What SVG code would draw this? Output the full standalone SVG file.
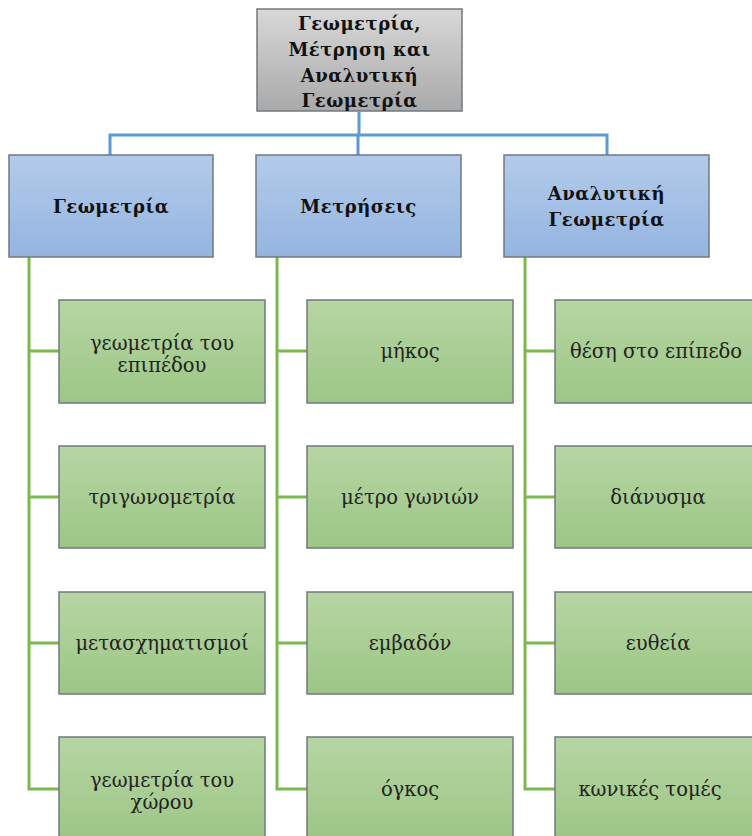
<svg xmlns="http://www.w3.org/2000/svg" width="752" height="836" viewBox="0 0 752 836">
  <defs>
    <linearGradient id="gGray" x1="0" y1="0" x2="0" y2="1">
      <stop offset="0" stop-color="#d8d8d8"/>
      <stop offset="1" stop-color="#a9a9a9"/>
    </linearGradient>
    <linearGradient id="gBlue" x1="0" y1="0" x2="0" y2="1">
      <stop offset="0" stop-color="#b3cbea"/>
      <stop offset="1" stop-color="#94b4e0"/>
    </linearGradient>
    <linearGradient id="gGreen" x1="0" y1="0" x2="0" y2="1">
      <stop offset="0" stop-color="#b6d5a3"/>
      <stop offset="1" stop-color="#9dc686"/>
    </linearGradient>
  </defs>
  <style>
    .box { stroke: #6f7a80; stroke-width: 1.5; }
    .root { fill: url(#gGray); }
    .cat { fill: url(#gBlue); }
    .leaf { fill: url(#gGreen); }
    .hdr { font-family: "DejaVu Serif", serif; font-weight: bold; font-size: 18px; letter-spacing: 0.5px; fill: #111; text-anchor: middle; }
    .lbl { font-family: "DejaVu Serif", serif; font-size: 19.5px; fill: #222; text-anchor: middle; }
    .blue { stroke: #5b9bd5; stroke-width: 3; fill: none; }
    .green { stroke: #7db84f; stroke-width: 3; fill: none; }
  </style>

  <g id="connectors">
    <path class="blue" d="M359 112 V135 M110 155 V135 H607 V155 M358 135 V155"/>
    <path class="green" d="M29 257 V789 H59 M29 351 H59 M29 497 H59 M29 643 H59"/>
    <path class="green" d="M277 257 V789 H307 M277 351 H307 M277 497 H307 M277 643 H307"/>
    <path class="green" d="M525 257 V789 H555 M525 351 H555 M525 497 H555 M525 643 H555"/>
  </g>

  <g id="root">
    <rect class="box root" x="257" y="9" width="205" height="102"/>
    <text class="hdr" x="359.5" y="30">Γεωμετρία,</text>
    <text class="hdr" x="359.5" y="56">Μέτρηση και</text>
    <text class="hdr" x="359.5" y="82">Αναλυτική</text>
    <text class="hdr" x="359.5" y="107">Γεωμετρία</text>
  </g>

  <g id="cat-geometria">
    <rect class="box cat" x="9" y="155" width="204" height="102"/>
    <text class="hdr" x="111" y="213">Γεωμετρία</text>
  </g>
  <g id="cat-metriseis">
    <rect class="box cat" x="256" y="155" width="205" height="102"/>
    <text class="hdr" x="358.5" y="213">Μετρήσεις</text>
  </g>
  <g id="cat-analytiki">
    <rect class="box cat" x="504" y="155" width="205" height="102"/>
    <text class="hdr" x="606.5" y="200">Αναλυτική</text>
    <text class="hdr" x="606.5" y="226">Γεωμετρία</text>
  </g>

  <g id="leaf-epipedo">
    <rect class="box leaf" x="59" y="300" width="206" height="103"/>
    <text class="lbl" x="162" y="350">γεωμετρία του</text>
    <text class="lbl" x="162" y="372">επιπέδου</text>
  </g>
  <g id="leaf-trigonometria">
    <rect class="box leaf" x="59" y="446" width="206" height="102"/>
    <text class="lbl" x="162" y="504">τριγωνομετρία</text>
  </g>
  <g id="leaf-metasximatismoi">
    <rect class="box leaf" x="59" y="592" width="206" height="102"/>
    <text class="lbl" x="162" y="650">μετασχηματισμοί</text>
  </g>
  <g id="leaf-xoros">
    <rect class="box leaf" x="59" y="737" width="206" height="103"/>
    <text class="lbl" x="162" y="787">γεωμετρία του</text>
    <text class="lbl" x="162" y="809">χώρου</text>
  </g>

  <g id="leaf-mikos">
    <rect class="box leaf" x="307" y="300" width="206" height="103"/>
    <text class="lbl" x="410" y="358">μήκος</text>
  </g>
  <g id="leaf-gonies">
    <rect class="box leaf" x="307" y="446" width="206" height="102"/>
    <text class="lbl" x="410" y="504">μέτρο γωνιών</text>
  </g>
  <g id="leaf-emvadon">
    <rect class="box leaf" x="307" y="592" width="206" height="102"/>
    <text class="lbl" x="410" y="650">εμβαδόν</text>
  </g>
  <g id="leaf-ogkos">
    <rect class="box leaf" x="307" y="737" width="206" height="103"/>
    <text class="lbl" x="410" y="796">όγκος</text>
  </g>

  <g id="leaf-thesi">
    <rect class="box leaf" x="555" y="300" width="206" height="103"/>
    <text class="lbl" x="656" y="358">θέση στο επίπεδο</text>
  </g>
  <g id="leaf-dianysma">
    <rect class="box leaf" x="555" y="446" width="206" height="102"/>
    <text class="lbl" x="658" y="504">διάνυσμα</text>
  </g>
  <g id="leaf-eftheia">
    <rect class="box leaf" x="555" y="592" width="206" height="102"/>
    <text class="lbl" x="658" y="650">ευθεία</text>
  </g>
  <g id="leaf-konikes">
    <rect class="box leaf" x="555" y="737" width="206" height="103"/>
    <text class="lbl" x="650" y="796">κωνικές τομές</text>
  </g>
</svg>
